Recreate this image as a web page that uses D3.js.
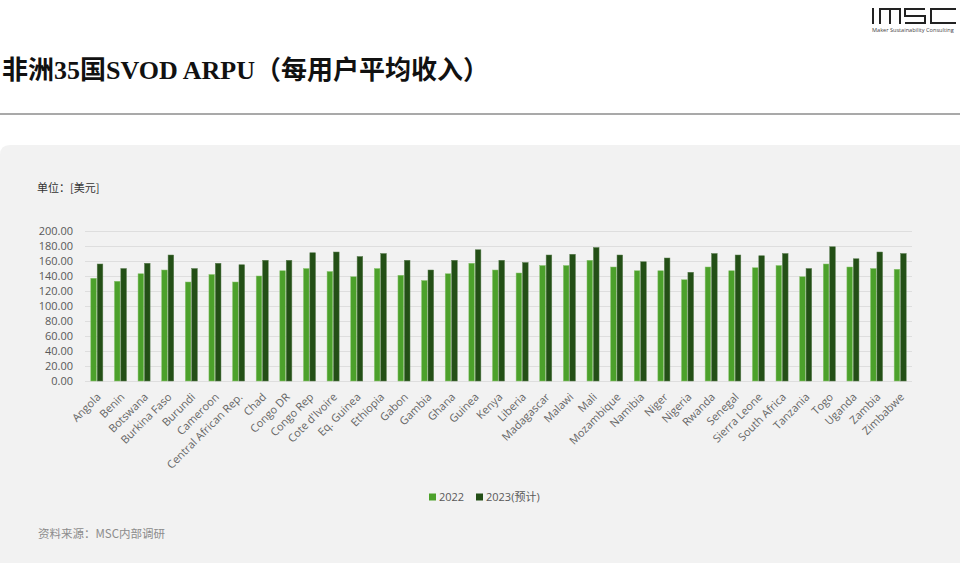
<!DOCTYPE html>
<html>
<head>
<meta charset="utf-8">
<script src="https://cdn.jsdelivr.net/npm/d3@7/dist/d3.min.js"></script>
<style>
  html, body { margin: 0; padding: 0; background: #fff; }
  svg { display: block; }
</style>
</head>
<body>
<svg id="chart" width="960" height="563"></svg>
<script>
const countries = ["Angola","Benin","Botswana","Burkina Faso","Burundi","Cameroon","Central African Rep.","Chad","Congo DR","Congo Rep","Cote d'Ivoire","Eq. Guinea","Ethiopia","Gabon","Gambia","Ghana","Guinea","Kenya","Liberia","Madagascar","Malawi","Mali","Mozambique","Namibia","Niger","Nigeria","Rwanda","Senegal","Sierra Leone","South Africa","Tanzania","Togo","Uganda","Zambia","Zimbabwe"];
const values2022 = [137,133,143,148,132,142,132,140,147,150,146,139,150,141,134,143,157,148,144,154,154,161,152,147,147,135,152,147,151,154,139,156,152,150,149];
const values2023 = [156,150,157,168,150,157,155,161,161,171,172,166,170,161,148,161,175,161,158,168,169,178,168,159,164,145,170,168,167,170,150,179,163,172,170];
const seriesNames = ["2022","2023(预计)"];
const yTicks = [0,20,40,60,80,100,120,140,160,180,200];

const colors = ["#4ca12b", "#234f16"];
const svg = d3.select("#chart");

// top header
svg.append("rect").attr("x",0).attr("y",0).attr("width",960).attr("height",563).attr("fill","#fff");
svg.append("text").attr("x",2).attr("y",79)
  .style("font-family","'Liberation Serif','Noto Sans CJK SC',serif")
  .style("font-weight","bold").style("font-size","26px").attr("fill","#111")
  .text("非洲35国SVOD ARPU（每用户平均收入）");
svg.append("rect").attr("x",0).attr("y",113).attr("width",960).attr("height",2).attr("fill","#a9a9a9");

// logo
const logo = svg.append("g").attr("fill","none").attr("stroke","#222").attr("stroke-width",2);
logo.append("line").attr("x1",873).attr("y1",8).attr("x2",873).attr("y2",24);
logo.append("path").attr("d","M880,24 V9 H900 V24 M890,9 V24");
logo.append("path").attr("d","M925,9 H905 V16 H925 V23 H905");
logo.append("path").attr("d","M956,9 H931 V23 H956");
svg.append("text").attr("x",872).attr("y",32).style("font-family","'Open Sans',sans-serif")
  .style("font-size","5.6px").attr("fill","#444").text("Maker Sustainability Consulting");

// panel
svg.append("path")
  .attr("d","M0,155 Q0,145 10,145 H960 V563 H0 Z")
  .attr("fill","#f2f2f2");

const pLeft = 85, pRight = 912, pTop = 231, pBottom = 381;
const x0 = d3.scaleBand().domain(countries).range([pLeft,pRight]).paddingInner(0.49).paddingOuter(0.245);
const x1 = d3.scaleBand().domain(seriesNames).range([0,x0.bandwidth()]).paddingInner(0.12);
const y = d3.scaleLinear().domain([0,200]).range([pBottom,pTop]);

// gridlines
svg.append("g").selectAll("line").data(yTicks).join("line")
  .attr("x1",pLeft).attr("x2",pRight)
  .attr("y1",d=>y(d)+0.5).attr("y2",d=>y(d)+0.5)
  .attr("stroke","#dedede").attr("stroke-width",1);

// y axis
const yAxis = d3.axisLeft(y).tickValues(yTicks).tickFormat(d3.format(".2f")).tickSize(0).tickPadding(12);
const yg = svg.append("g").attr("transform",`translate(${pLeft},0)`).call(yAxis);
yg.select(".domain").remove();
yg.selectAll("text").style("font-family","'Open Sans',sans-serif").style("font-size","11px").attr("fill","#595959");

// bars
const data = countries.map((c,i)=>({c, v:[values2022[i], values2023[i]]}));
const groups = svg.append("g").selectAll("g").data(data).join("g")
  .attr("transform",d=>`translate(${x0(d.c)},0)`);
groups.selectAll("rect").data(d=>d.v.map((v,j)=>({name:seriesNames[j], v, j}))).join("rect")
  .attr("x",d=>x1(d.name)).attr("width",x1.bandwidth())
  .attr("y",d=>y(d.v)).attr("height",d=>y(0)-y(d.v))
  .attr("fill",d=>colors[d.j])
  .attr("stroke",d=>d.j===0?"#8cc472":"#5c7f52").attr("stroke-width",0.5);

// x axis labels
const xAxis = d3.axisBottom(x0).tickSize(0).tickPadding(0);
const xg = svg.append("g").attr("transform",`translate(0,${pBottom})`).call(xAxis);
xg.select(".domain").remove();
xg.selectAll("text")
  .style("font-family","'Open Sans',sans-serif").style("font-size","11px").attr("fill","#666")
  .attr("text-anchor","end")
  .attr("transform","translate(2,14) rotate(-45)")
  .attr("dy","0.35em").attr("y",0).attr("x",0);

// unit label
svg.append("text").attr("x",37).attr("y",192)
  .style("font-family","'Noto Sans CJK SC',sans-serif").style("font-size","11px").attr("fill","#333")
  .text("单位：[美元]");

// legend
const lg = svg.append("g").attr("transform","translate(429,497)");
const items = [{x:0},{x:47}];
seriesNames.forEach((n,i)=>{
  const g = lg.append("g").attr("transform",`translate(${items[i].x},0)`);
  g.append("rect").attr("x",0).attr("y",-3.5).attr("width",7).attr("height",7).attr("fill",colors[i]);
  g.append("text").attr("x",10).attr("y",4)
    .style("font-family","'Open Sans','Noto Sans CJK SC',sans-serif").style("font-size","11px").attr("fill","#595959")
    .text(n);
});

// source
svg.append("text").attr("x",38).attr("y",538)
  .style("font-family","'Noto Sans CJK SC',sans-serif").style("font-size","11.5px").attr("fill","#8c8c8c")
  .text("资料来源：MSC内部调研");
</script>
</body>
</html>
